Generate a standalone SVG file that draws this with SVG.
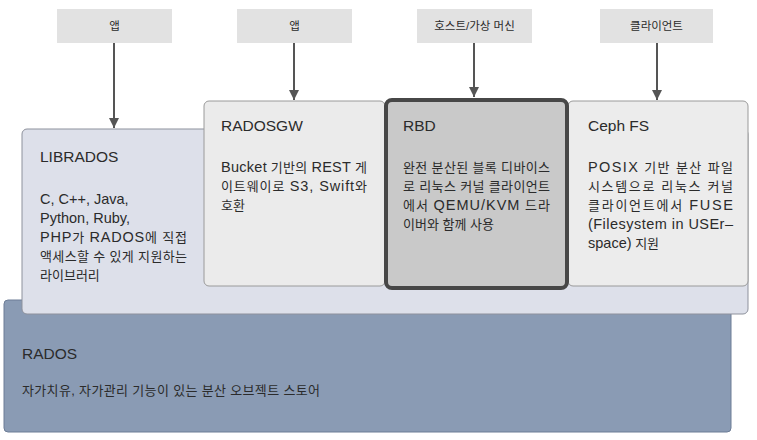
<svg xmlns="http://www.w3.org/2000/svg" width="757" height="440" viewBox="0 0 757 440">
<style>
text{font-family:"Liberation Sans","Noto Sans CJK KR",sans-serif;fill:#2b2b2b}
.lbl{font-size:11.5px;text-anchor:middle}
.ttl{font-size:15.5px}
.body{font-size:13px}
.l{font-size:14.5px}
.top{fill:#e2e2e2}
.conn{stroke:#555;stroke-width:2;fill:none}
</style>
<defs>
<marker id="ah" viewBox="0 0 10 10" refX="10" refY="5" markerWidth="5" markerHeight="5" markerUnits="strokeWidth" orient="auto">
<path d="M0,0 L10,5 L0,10 z" fill="#555"/>
</marker>
</defs>
<rect width="757" height="440" fill="#fff"/>
<g id="rados">
<rect x="4" y="300" width="727" height="132" rx="4" fill="#8a9bb4" stroke="#6d7d96" stroke-width="1"/>
<text class="ttl" x="22" y="359">RADOS</text>
<text class="body" x="22" y="395" textLength="298" lengthAdjust="spacing">자가치유, 자가관리 기능이 있는 분산 오브젝트 스토어</text>
</g>
<g id="librados">
<rect x="22" y="129" width="726" height="185" rx="5" fill="#dde0ea" stroke="#8d919c" stroke-width="1"/>
<text class="ttl" x="40" y="162">LIBRADOS</text>
<text class="body l" x="40" y="204">C, C++, Java,</text>
<text class="body l" x="40" y="223">Python, Ruby,</text>
<text class="body" x="40" y="242" textLength="147" lengthAdjust="spacing"><tspan class="l">PHP</tspan>가 <tspan class="l">RADOS</tspan>에 직접</text>
<text class="body" x="40" y="261" textLength="147" lengthAdjust="spacing">액세스할 수 있게 지원하는</text>
<text class="body" x="40" y="280">라이브러리</text>
</g>
<g id="radosgw">
<rect x="204" y="101" width="181" height="185" rx="5" fill="#ebebeb" stroke="#9a9a9a" stroke-width="1"/>
<text class="ttl" x="221" y="131">RADOSGW</text>
<text class="body" x="221" y="172" textLength="146" lengthAdjust="spacing"><tspan class="l">Bucket</tspan> 기반의 <tspan class="l">REST</tspan> 게</text>
<text class="body" x="221" y="191" textLength="146" lengthAdjust="spacing">이트웨이로 <tspan class="l">S3, Swift</tspan>와</text>
<text class="body" x="221" y="210">호환</text>
</g>
<g id="cephfs">
<rect x="568" y="101" width="180" height="185" rx="5" fill="#ececec" stroke="#9a9a9a" stroke-width="1"/>
<text class="ttl" x="588" y="131">Ceph FS</text>
<text class="body" x="588" y="172" textLength="145" lengthAdjust="spacing"><tspan class="l">POSIX</tspan> 기반 분산 파일</text>
<text class="body" x="588" y="191" textLength="145" lengthAdjust="spacing">시스템으로 리눅스 커널</text>
<text class="body" x="588" y="210" textLength="145" lengthAdjust="spacing">클라이언트에서 <tspan class="l">FUSE</tspan></text>
<text class="body l" x="588" y="229" textLength="145" lengthAdjust="spacing">(Filesystem in USEr–</text>
<text class="body" x="588" y="248"><tspan class="l">space)</tspan> 지원</text>
</g>
<g id="rbd">
<rect x="386" y="100" width="181" height="188" rx="6" fill="#c9c9c9" stroke="#474747" stroke-width="4"/>
<text class="ttl" x="403" y="131">RBD</text>
<text class="body" x="403" y="172" textLength="147" lengthAdjust="spacing">완전 분산된 블록 디바이스</text>
<text class="body" x="403" y="191" textLength="147" lengthAdjust="spacing">로 리눅스 커널 클라이언트</text>
<text class="body" x="403" y="210" textLength="147" lengthAdjust="spacing">에서 <tspan class="l">QEMU/KVM</tspan> 드라</text>
<text class="body" x="403" y="229">이버와 함께 사용</text>
</g>
<g id="app1">
<rect class="top" x="57" y="9" width="115" height="34"/>
<text class="lbl" x="114.5" y="30">앱</text>
</g>
<g id="app2">
<rect class="top" x="237" y="9" width="115" height="34"/>
<text class="lbl" x="294.5" y="30">앱</text>
</g>
<g id="host">
<rect class="top" x="417" y="9" width="115" height="34"/>
<text class="lbl" x="474.5" y="30">호스트/가상 머신</text>
</g>
<g id="client">
<rect class="top" x="600" y="9" width="113" height="34"/>
<text class="lbl" x="656.5" y="30">클라이언트</text>
</g>
<g id="connectors">
<line class="conn" x1="114" y1="43" x2="114" y2="128" marker-end="url(#ah)"/>
<line class="conn" x1="294" y1="43" x2="294" y2="100" marker-end="url(#ah)"/>
<line class="conn" x1="474" y1="43" x2="474" y2="97" marker-end="url(#ah)"/>
<line class="conn" x1="657" y1="43" x2="657" y2="100" marker-end="url(#ah)"/>
</g>
</svg>
